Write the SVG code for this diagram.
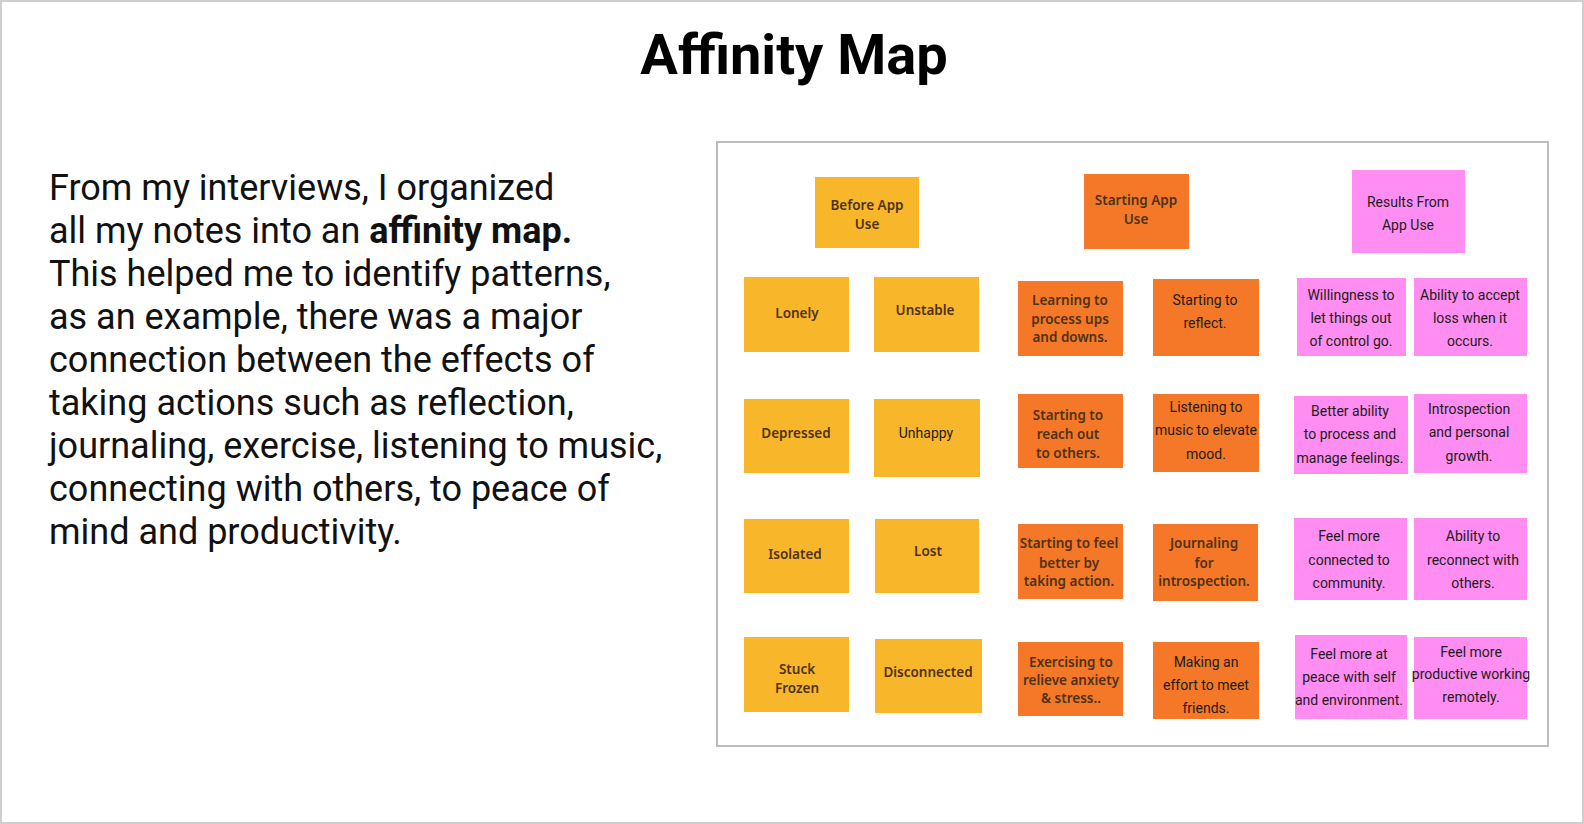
<svg xmlns="http://www.w3.org/2000/svg" width="1584" height="824" viewBox="0 0 1584 824">
<style>
.bg{fill:#ffffff;stroke:#cfcfcf;stroke-width:2}
.panel{fill:#ffffff;stroke:#bdbdbd;stroke-width:2}
.y{fill:#F8B62B}
.o{fill:#F47828}
.p{fill:#FF8DF2}
.pp{font-family:"Noto Sans","DejaVu Sans",sans-serif;font-weight:600;font-size:13.5px;fill:#4f3216;text-anchor:middle}
.rb{font-family:Roboto,"Liberation Sans",sans-serif;font-size:14px;fill:#1c1c1c;text-anchor:middle}
.title{font-family:Roboto,"Liberation Sans",sans-serif;font-weight:700;font-size:56px;fill:#000;text-anchor:middle}
.body{font-family:Roboto,"Liberation Sans",sans-serif;font-size:36px;fill:#111}
</style>
<rect class="bg" x="1" y="1" width="1582" height="822"/>
<text class="title" x="794" y="74">Affinity Map</text>
<g id="intro">
<text class="body" x="49" y="200">From my interviews, I organized</text>
<text class="body" x="49" y="243">all my notes into an <tspan font-weight="700">affinity map.</tspan></text>
<text class="body" x="49" y="286">This helped me to identify patterns,</text>
<text class="body" x="49" y="329">as an example, there was a major</text>
<text class="body" x="49" y="372">connection between the effects of</text>
<text class="body" x="49" y="415">taking actions such as reflection,</text>
<text class="body" x="49" y="458">journaling, exercise, listening to music,</text>
<text class="body" x="49" y="501">connecting with others, to peace of</text>
<text class="body" x="49" y="544">mind and productivity.</text>
</g>
<rect id="panel" class="panel" x="717" y="142" width="831" height="604"/>
<g id="connectors"/>
<g id="before-app-use"><rect class="y" x="815" y="177" width="104" height="71"/><text class="pp" x="867" y="210">Before App</text><text class="pp" x="867" y="229">Use</text></g>
<g id="starting-app-use"><rect class="o" x="1084" y="174" width="105" height="75"/><text class="pp" x="1136" y="205">Starting App</text><text class="pp" x="1136" y="224">Use</text></g>
<g id="results-from-app-use"><rect class="p" x="1352" y="170" width="113" height="83"/><text class="rb" x="1408" y="207">Results From</text><text class="rb" x="1408" y="230">App Use</text></g>

<g id="lonely"><rect class="y" x="744" y="277" width="105" height="75"/><text class="pp" x="797" y="318">Lonely</text></g>
<g id="unstable"><rect class="y" x="874" y="277" width="105" height="75"/><text class="pp" x="925" y="315">Unstable</text></g>
<g id="learning"><rect class="o" x="1018" y="281" width="105" height="75"/><text class="pp" x="1070" y="305">Learning to</text><text class="pp" x="1070" y="324">process ups</text><text class="pp" x="1070" y="342">and downs.</text></g>
<g id="reflect"><rect class="o" x="1153" y="279" width="106" height="77"/><text class="rb" x="1205" y="305">Starting to</text><text class="rb" x="1205" y="328">reflect.</text></g>
<g id="willingness"><rect class="p" x="1297" y="278" width="109" height="78"/><text class="rb" x="1351" y="300">Willingness to</text><text class="rb" x="1351" y="323">let things out</text><text class="rb" x="1351" y="346">of control go.</text></g>
<g id="accept-loss"><rect class="p" x="1414" y="278" width="113" height="78"/><text class="rb" x="1470" y="300">Ability to accept</text><text class="rb" x="1470" y="323">loss when it</text><text class="rb" x="1470" y="346">occurs.</text></g>

<g id="depressed"><rect class="y" x="744" y="399" width="105" height="74"/><text class="pp" x="796" y="438">Depressed</text></g>
<g id="unhappy"><rect class="y" x="874" y="399" width="106" height="78"/><text class="rb" x="926" y="438">Unhappy</text></g>
<g id="reach-out"><rect class="o" x="1018" y="394" width="105" height="74"/><text class="pp" x="1068" y="420">Starting to</text><text class="pp" x="1068" y="439">reach out</text><text class="pp" x="1068" y="458">to others.</text></g>
<g id="listening"><rect class="o" x="1153" y="394" width="106" height="78"/><text class="rb" x="1206" y="412">Listening to</text><text class="rb" x="1206" y="435">music to elevate</text><text class="rb" x="1206" y="459">mood.</text></g>
<g id="better-ability"><rect class="p" x="1294" y="396" width="114" height="78"/><text class="rb" x="1350" y="416">Better ability</text><text class="rb" x="1350" y="439">to process and</text><text class="rb" x="1350" y="463">manage feelings.</text></g>
<g id="introspection"><rect class="p" x="1414" y="394" width="113" height="79"/><text class="rb" x="1469" y="414">Introspection</text><text class="rb" x="1469" y="437">and personal</text><text class="rb" x="1469" y="461">growth.</text></g>

<g id="isolated"><rect class="y" x="744" y="519" width="105" height="74"/><text class="pp" x="795" y="559">Isolated</text></g>
<g id="lost"><rect class="y" x="875" y="519" width="104" height="74"/><text class="pp" x="928" y="556">Lost</text></g>
<g id="feel-better"><rect class="o" x="1018" y="524" width="105" height="75"/><text class="pp" x="1069" y="548">Starting to feel</text><text class="pp" x="1069" y="568">better by</text><text class="pp" x="1069" y="586">taking action.</text></g>
<g id="journaling"><rect class="o" x="1153" y="524" width="105" height="77"/><text class="pp" x="1204" y="548">Journaling</text><text class="pp" x="1204" y="568">for</text><text class="pp" x="1204" y="586">introspection.</text></g>
<g id="connected"><rect class="p" x="1294" y="518" width="113" height="82"/><text class="rb" x="1349" y="541">Feel more</text><text class="rb" x="1349" y="565">connected to</text><text class="rb" x="1349" y="588">community.</text></g>
<g id="reconnect"><rect class="p" x="1414" y="518" width="113" height="82"/><text class="rb" x="1473" y="541">Ability to</text><text class="rb" x="1473" y="565">reconnect with</text><text class="rb" x="1473" y="588">others.</text></g>

<g id="stuck-frozen"><rect class="y" x="744" y="637" width="105" height="75"/><text class="pp" x="797" y="674">Stuck</text><text class="pp" x="797" y="693">Frozen</text></g>
<g id="disconnected"><rect class="y" x="875" y="639" width="107" height="74"/><text class="pp" x="928" y="677">Disconnected</text></g>
<g id="exercising"><rect class="o" x="1018" y="642" width="105" height="74"/><text class="pp" x="1071" y="667">Exercising to</text><text class="pp" x="1071" y="685">relieve anxiety</text><text class="pp" x="1071" y="703">&amp; stress..</text></g>
<g id="meet-friends"><rect class="o" x="1153" y="642" width="106" height="77"/><text class="rb" x="1206" y="667">Making an</text><text class="rb" x="1206" y="690">effort to meet</text><text class="rb" x="1206" y="713">friends.</text></g>
<g id="at-peace"><rect class="p" x="1295" y="635" width="112" height="84"/><text class="rb" x="1349" y="659">Feel more at</text><text class="rb" x="1349" y="682">peace with self</text><text class="rb" x="1349" y="705">and environment.</text></g>
<g id="productive"><rect class="p" x="1414" y="637" width="113" height="82"/><text class="rb" x="1471" y="657">Feel more</text><text class="rb" x="1471" y="679">productive working</text><text class="rb" x="1471" y="702">remotely.</text></g>
</svg>
